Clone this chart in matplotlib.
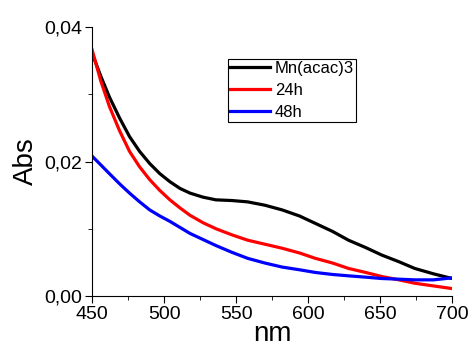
import matplotlib
matplotlib.use("Agg")
from matplotlib import pyplot as plt
from matplotlib.ticker import MultipleLocator, FuncFormatter

plt.rcParams['font.family'] = ['Liberation Sans', 'DejaVu Sans']

nm = [450, 456, 462, 469, 476, 483, 490, 497, 504, 511, 518, 527, 536, 547, 558, 570, 582, 594, 605, 617, 628, 640, 651, 663, 674, 687, 700]
mn_acac3 = [0.0361, 0.0327, 0.0296, 0.0265, 0.0237, 0.0215, 0.0197, 0.0182, 0.0170, 0.0160, 0.0153, 0.0147, 0.0143, 0.0142, 0.0140, 0.0135, 0.0128, 0.0119,
            0.0108, 0.0096, 0.0083, 0.0072, 0.0061, 0.0051, 0.0041, 0.0033, 0.0026]
h24 = [0.0366, 0.0320, 0.0282, 0.0246, 0.0215, 0.0192, 0.0173, 0.0157, 0.0143, 0.0131, 0.0120, 0.0109, 0.0100, 0.0091, 0.0083, 0.0077, 0.0071, 0.0064,
       0.0056, 0.0049, 0.0041, 0.0035, 0.0029, 0.0024, 0.0019, 0.0015, 0.0011]
h48 = [0.0208, 0.0195, 0.0182, 0.0167, 0.0153, 0.0140, 0.0128, 0.0119, 0.0111, 0.0102, 0.0093, 0.0084, 0.0075, 0.0065, 0.0056, 0.0049, 0.0043, 0.0039,
       0.0035, 0.0032, 0.0030, 0.0028, 0.0026, 0.0025, 0.0024, 0.0024, 0.0027]

fig = plt.figure(figsize=(4.7, 3.47), dpi=100)
ax = fig.add_axes([0.196, 0.147, 0.766, 0.775])

ax.plot(nm, mn_acac3, color="black", lw=2.3, label="Mn(acac)3")
ax.plot(nm, h24, color="red", lw=2.3, label="24h")
ax.plot(nm, h48, color="blue", lw=2.3, label="48h")

ax.set_xlim(450, 700)
ax.set_ylim(0, 0.04)
ax.spines["top"].set_visible(False)
ax.spines["right"].set_visible(False)
ax.xaxis.set_major_locator(MultipleLocator(50))
ax.xaxis.set_minor_locator(MultipleLocator(25))
ax.yaxis.set_major_locator(MultipleLocator(0.02))
ax.yaxis.set_minor_locator(MultipleLocator(0.01))
ax.yaxis.set_major_formatter(FuncFormatter(lambda v, p: f"{v:.2f}".replace(".", ",")))
ax.tick_params(which="major", direction="out", length=5, labelsize=14, pad=2)
ax.tick_params(which="minor", direction="out", length=3)

ax.set_xlabel("nm", fontsize=20, labelpad=-1)
ax.set_ylabel("Abs", fontsize=20, labelpad=4)

leg = ax.legend(loc="upper left", bbox_to_anchor=(0.378, 0.88), fontsize=12,
                frameon=True, fancybox=False, edgecolor="black", framealpha=1,
                handlelength=2.4, handletextpad=0.3, labelspacing=0.42,
                borderpad=0.1, borderaxespad=0)
leg.get_frame().set_linewidth(0.8)

fig.savefig("out.png", dpi=100)
